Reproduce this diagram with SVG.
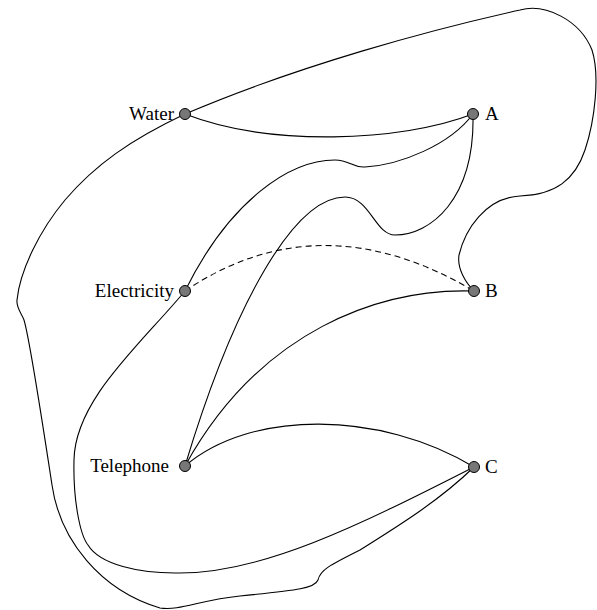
<svg xmlns="http://www.w3.org/2000/svg" width="597" height="610" viewBox="0 0 597 610">
<style>
.e{fill:none;stroke:#000;stroke-width:1.1}
.d{stroke-dasharray:6,4}
.n{fill:#777;stroke:#000;stroke-width:1}
.l{font-family:"Liberation Serif","Times New Roman",serif;font-size:19px;fill:#000}
</style>
<rect width="597" height="610" fill="#fff"/>
<g id="connectors">
<path class="e" d="M185,114 C270,147 400,142 473,114"/>
<path class="e" d="M185,114 C300,65 430,30 520,10 C545,3 580,20 592,50 C600,75 595,120 585,150 C575,180 555,195 520,196 C485,198 465,230 459,255 C457,268 465,282 474,291"/>
<path class="e" d="M185,114 C130,140 95,165 65,200 C40,230 20,270 17,300 C16,308 22,314 24,320 C30,340 42,420 52,485 C60,540 100,590 160,608 C180,611 200,600 240,596 C300,590 315,588 318,580 C320,570 330,565 360,550 C400,525 440,500 474,467"/>
<path class="e" d="M185,291 C230,200 290,160 335,160 C350,160 352,168 365,167 C400,165 450,145 473,114"/>
<path class="e" d="M473,114 C475,200 430,235 395,235 C375,235 370,197 345,197 C295,197 235,300 185,466"/>
<path class="e d" d="M185,291 Q320,200 474,291"/>
<path class="e" d="M474,291 C380,288 260,330 185,466"/>
<path class="e" d="M185,466 C250,410 380,410 474,467"/>
<path class="e" d="M185,291 C140,345 75,400 74,460 C73,500 80,535 88,545 C100,565 140,573 175,573 C260,575 360,525 474,467"/>
</g>
<g id="Water"><circle class="n" cx="185" cy="114" r="5.5"/><text class="l" x="174" y="120" text-anchor="end">Water</text></g>
<g id="A"><circle class="n" cx="473" cy="114" r="5.5"/><text class="l" x="485" y="120">A</text></g>
<g id="Electricity"><circle class="n" cx="185" cy="291" r="5.5"/><text class="l" x="174" y="297" text-anchor="end">Electricity</text></g>
<g id="B"><circle class="n" cx="474" cy="291" r="5.5"/><text class="l" x="485" y="297">B</text></g>
<g id="Telephone"><circle class="n" cx="185" cy="466" r="5.5"/><text class="l" x="169" y="472" text-anchor="end">Telephone</text></g>
<g id="C"><circle class="n" cx="474" cy="467" r="5.5"/><text class="l" x="485" y="473">C</text></g>
</svg>
